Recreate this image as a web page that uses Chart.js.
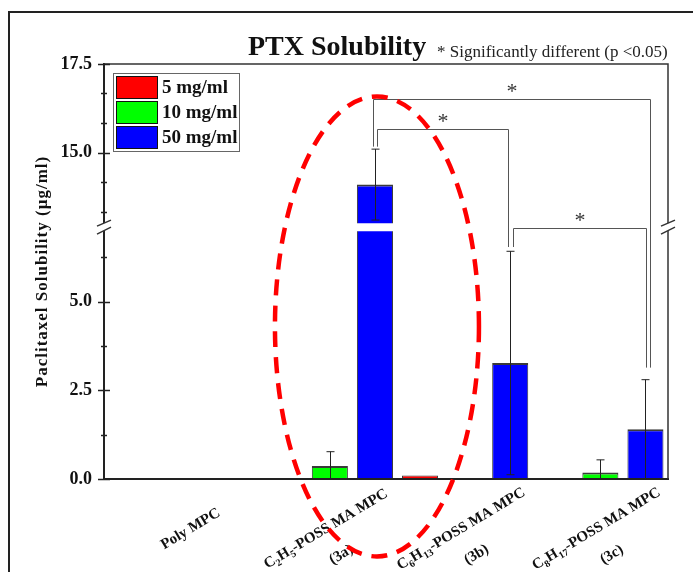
<!DOCTYPE html>
<html>
<head>
<meta charset="utf-8">
<script src="https://cdn.jsdelivr.net/npm/chart.js@4.4.0/dist/chart.umd.min.js"></script>
<style>
  body { margin: 0; background: #fff; }
  canvas { display: block; }
</style>
</head>
<body>
<canvas id="ptxChart" width="693" height="572"></canvas>
<script>
// groups on the x axis (_{n} = subscript)
const categories = ['Poly MPC', 'C_{2}H_{5}-POSS MA MPC', 'C_{6}H_{13}-POSS MA MPC', 'C_{8}H_{17}-POSS MA MPC'];
const categoryCodes = ['', '(3a)', '(3b)', '(3c)'];
const seriesNames = ['5 mg/ml', '10 mg/ml', '50 mg/ml'];

// mean paclitaxel solubility (ug/ml)
const sol5 = [0, 0, 0.1, 0];
const sol10 = [0, 0.37, 0, 0.18];
const sol50 = [0, 14.1, 3.27, 1.40];
// standard deviations
const sd5 = [0, 0, 0, 0];
const sd10 = [0, 0.40, 0, 0.36];
const sd50 = [0, 1.0, 3.15, 1.40];

// broken y axis: lower and upper part
const lowRange = [0, 7.1];
const highRange = [12.9, 17.5];
const lowTicks = [0, 2.5, 5.0];
const highTicks = [15.0, 17.5];
const lowMinor = [1.25, 3.75, 6.25];
const highMinor = [13.33, 14.17, 15.83, 16.67];

// significance brackets: from [group, series] to [group, series]
const brackets = [
  { from: [1, 2], to: [3, 2], level: 16.5, fromEnd: 15.17, toEnd: 3.14, dx: [-2, 5] },
  { from: [1, 2], to: [2, 2], level: 15.67, fromEnd: 15.17, toEnd: 6.54, dx: [2, -2] },
  { from: [2, 2], to: [3, 2], level: 7.08, fromEnd: 6.54, toEnd: 3.14, dx: [3, 1] }
];

const FONT = '"Liberation Serif", "Times New Roman", serif';
const colors = ['#FF0000', '#00FF00', '#0000FF'];
const topBorder = [1, 2, 2];
const means = [sol5, sol10, sol50];
const sds = [sd5, sd10, sd50];

const ctx = document.getElementById('ptxChart').getContext('2d');

// same bars on both parts of the axis, each clipped to its own part
const datasets = [];
['y', 'y2'].forEach(axis => {
  means.forEach((vals, s) => {
    datasets.push({
      label: seriesNames[s],
      data: vals,
      yAxisID: axis,
      stack: 'g' + s,
      backgroundColor: colors[s],
      borderColor: '#3a3a3a',
      borderWidth: { top: topBorder[s], left: 1, right: 1, bottom: 0 },
      borderSkipped: false,
      categoryPercentage: 1,
      barPercentage: 0.8
    });
  });
});

function yPix(chart, v) {
  return v <= highRange[0] ? chart.scales.y.getPixelForValue(v) : chart.scales.y2.getPixelForValue(v);
}

function drawRich(c, text, x, y) {
  const runs = [];
  text.split(/(_\{\d+\})/).forEach(p => {
    if (!p) return;
    const m = p.match(/^_\{(\d+)\}$/);
    runs.push(m ? { t: m[1], sub: true } : { t: p, sub: false });
  });
  const big = 'bold 15px ' + FONT, small = 'bold 10px ' + FONT;
  let w = 0;
  runs.forEach(r => { c.font = r.sub ? small : big; r.w = c.measureText(r.t).width; w += r.w; });
  let cx = x - w / 2;
  runs.forEach(r => {
    c.font = r.sub ? small : big;
    c.fillText(r.t, cx, y + (r.sub ? 5 : 0));
    cx += r.w;
  });
}

const clipParts = {
  id: 'clipParts',
  beforeDatasetDraw(chart, args) {
    const sc = chart.scales[args.meta.yAxisID];
    const a = chart.chartArea;
    const c = chart.ctx;
    c.save();
    c.beginPath();
    if (args.meta.yAxisID === 'y') c.rect(a.left, sc.top + 4, a.right - a.left, sc.bottom - sc.top - 3);
    else c.rect(a.left, sc.top - 2, a.right - a.left, sc.bottom - sc.top - 2);
    c.clip();
  },
  afterDatasetDraw(chart) {
    chart.ctx.restore();
  }
};

const decorations = {
  id: 'decorations',
  afterDraw(chart) {
    const c = chart.ctx;
    const a = chart.chartArea;
    const yl = chart.scales.y, yh = chart.scales.y2, xs = chart.scales.x;
    c.save();

    // outer frame
    c.strokeStyle = '#222';
    c.lineWidth = 2;
    c.strokeRect(9, 12, 720, 620);

    // top and right edges of the plot
    c.strokeStyle = '#333';
    c.lineWidth = 1.5;
    c.beginPath();
    c.moveTo(a.left, a.top); c.lineTo(a.right, a.top); c.lineTo(a.right, a.bottom);
    c.stroke();

    // tick marks across the left axis
    c.strokeStyle = '#222';
    c.lineWidth = 1.5;
    [[yl, lowTicks, lowMinor], [yh, highTicks, highMinor]].forEach(([sc, maj, min]) => {
      maj.forEach(v => { const p = Math.round(sc.getPixelForValue(v)) + 0.5; c.beginPath(); c.moveTo(a.left - 6, p); c.lineTo(a.left + 6, p); c.stroke(); });
      min.forEach(v => { const p = Math.round(sc.getPixelForValue(v)) + 0.5; c.beginPath(); c.moveTo(a.left - 3, p); c.lineTo(a.left + 3, p); c.stroke(); });
    });

    // axis break marks
    const by = yl.top;
    [a.left, a.right].forEach(bx => {
      c.fillStyle = '#fff';
      c.beginPath();
      c.moveTo(bx - 7, by - 1); c.lineTo(bx + 7, by - 7); c.lineTo(bx + 7, by); c.lineTo(bx - 7, by + 7);
      c.closePath(); c.fill();
      c.strokeStyle = '#333';
      c.lineWidth = 1.5;
      c.beginPath();
      c.moveTo(bx - 7, by - 1); c.lineTo(bx + 7, by - 7);
      c.moveTo(bx - 7, by + 7); c.lineTo(bx + 7, by);
      c.stroke();
    });

    // error bars
    c.strokeStyle = '#222';
    c.lineWidth = 1;
    means.forEach((vals, s) => {
      const meta = chart.getDatasetMeta(s);
      vals.forEach((m, i) => {
        const sd = sds[s][i];
        if (!sd) return;
        const x = Math.round(meta.data[i].x) + 0.5;
        const lo = Math.max(0, m - sd), hi = m + sd;
        const pHi = yPix(chart, hi), pLo = yPix(chart, lo);
        c.beginPath();
        c.moveTo(x, pLo); c.lineTo(x, pHi);
        c.moveTo(x - 4, pHi); c.lineTo(x + 4, pHi);
        if (lo > 0) { c.moveTo(x - 4, pLo); c.lineTo(x + 4, pLo); }
        c.stroke();
      });
    });

    // significance brackets
    c.strokeStyle = '#555';
    c.lineWidth = 1;
    c.fillStyle = '#333';
    c.font = '22px ' + FONT;
    c.textAlign = 'center';
    c.textBaseline = 'middle';
    brackets.forEach(b => {
      const x1 = Math.round(chart.getDatasetMeta(b.from[1]).data[b.from[0]].x) + b.dx[0] + 0.5;
      const x2 = Math.round(chart.getDatasetMeta(b.to[1]).data[b.to[0]].x) + b.dx[1] + 0.5;
      const yTop = Math.round(yPix(chart, b.level)) + 0.5;
      c.beginPath();
      c.moveTo(x1, yPix(chart, b.fromEnd)); c.lineTo(x1, yTop); c.lineTo(x2, yTop); c.lineTo(x2, yPix(chart, b.toEnd));
      c.stroke();
      c.fillText('*', (x1 + x2) / 2, yTop - 7);
    });

    // legend
    const lx = 113, ly = 73;
    c.fillStyle = '#fff';
    c.fillRect(lx, ly, 126, 78);
    c.strokeStyle = '#666';
    c.lineWidth = 1;
    c.strokeRect(lx + 0.5, ly + 0.5, 126, 78);
    c.textAlign = 'left';
    c.textBaseline = 'alphabetic';
    c.font = 'bold 19px ' + FONT;
    seriesNames.forEach((name, s) => {
      const top = ly + 3 + s * 25;
      c.fillStyle = colors[s];
      c.fillRect(lx + 3, top, 41, 22);
      c.strokeStyle = '#111';
      c.strokeRect(lx + 3.5, top + 0.5, 41, 22);
      c.fillStyle = '#111';
      c.fillText(name, lx + 49, top + 17);
    });

    // titles
    c.fillStyle = '#111';
    c.font = 'bold 28px ' + FONT;
    c.fillText('PTX Solubility', 248, 55);
    c.fillStyle = '#222';
    c.font = '17px ' + FONT;
    c.fillText('* Significantly different (p <0.05)', 437, 57);

    // y axis title
    c.save();
    c.translate(43, (a.top + a.bottom) / 2);
    c.rotate(-Math.PI / 2);
    c.font = 'bold 17px ' + FONT;
    c.letterSpacing = '1px';
    c.textAlign = 'center';
    c.textBaseline = 'middle';
    c.fillStyle = '#111';
    c.fillText('Paclitaxel Solubility (\u00b5g/ml)', 0, 0);
    c.restore();

    // rotated x labels
    c.fillStyle = '#111';
    categories.forEach((name, i) => {
      c.save();
      c.translate(xs.getPixelForValue(i + 1) - 4, a.bottom + 50);
      c.rotate(-31 * Math.PI / 180);
      c.textAlign = 'left';
      c.textBaseline = 'middle';
      drawRich(c, name, 0, 0);
      if (categoryCodes[i]) {
        c.font = 'bold 15px ' + FONT;
        c.textAlign = 'center';
        c.fillText(categoryCodes[i], 0, 30);
      }
      c.restore();
    });

    // red dashed ellipse around the 3a group
    const ex = chart.getDatasetMeta(2).data[1].x + 2;
    const ey = yl.getPixelForValue(4.3);
    c.strokeStyle = '#FF0000';
    c.lineWidth = 4.5;
    c.setLineDash([16, 10]);
    c.beginPath();
    c.ellipse(ex, ey, 102, 230, 0, 0, Math.PI * 2);
    c.stroke();

    c.restore();
  }
};

new Chart(ctx, {
  type: 'bar',
  data: {
    labels: categories.map((n, i) => i + 1),
    datasets: datasets
  },
  options: {
    responsive: false,
    animation: false,
    layout: { padding: { top: 64, right: 25, left: 0, bottom: 0 } },
    plugins: {
      legend: { display: false },
      tooltip: { enabled: false }
    },
    scales: {
      x: {
        type: 'linear',
        min: 0.33,
        max: 4.5,
        offset: false,
        grid: { display: false, drawTicks: false, offset: false },
        ticks: { display: false },
        border: { display: true, width: 2, color: '#222', z: 1 },
        afterBuildTicks: s => { s.ticks = categories.map((n, i) => ({ value: i + 1 })); },
        afterFit: s => { s.height = 93; }
      },
      y: {
        type: 'linear',
        position: 'left',
        stack: 'ybreak',
        stackWeight: lowRange[1] - lowRange[0],
        stacked: false,
        min: lowRange[0],
        max: lowRange[1],
        grid: { display: false, drawTicks: false },
        border: { display: true, width: 2, color: '#222', z: 1 },
        ticks: { padding: 12, color: '#111', font: { family: FONT, size: 18, weight: 'bold' }, callback: v => v.toFixed(1) },
        afterBuildTicks: s => { s.ticks = lowTicks.map(v => ({ value: v })); },
        afterFit: s => { s.width = 104; }
      },
      y2: {
        type: 'linear',
        position: 'left',
        stack: 'ybreak',
        stackWeight: highRange[1] - highRange[0],
        stacked: false,
        beginAtZero: false,
        min: highRange[0],
        max: highRange[1],
        grid: { display: false, drawTicks: false },
        border: { display: true, width: 2, color: '#222', z: 1 },
        ticks: { padding: 12, color: '#111', font: { family: FONT, size: 18, weight: 'bold' }, callback: v => v.toFixed(1) },
        afterBuildTicks: s => { s.ticks = highTicks.map(v => ({ value: v })); },
        afterFit: s => { s.width = 104; }
      }
    }
  },
  plugins: [clipParts, decorations]
});
</script>
</body>
</html>
